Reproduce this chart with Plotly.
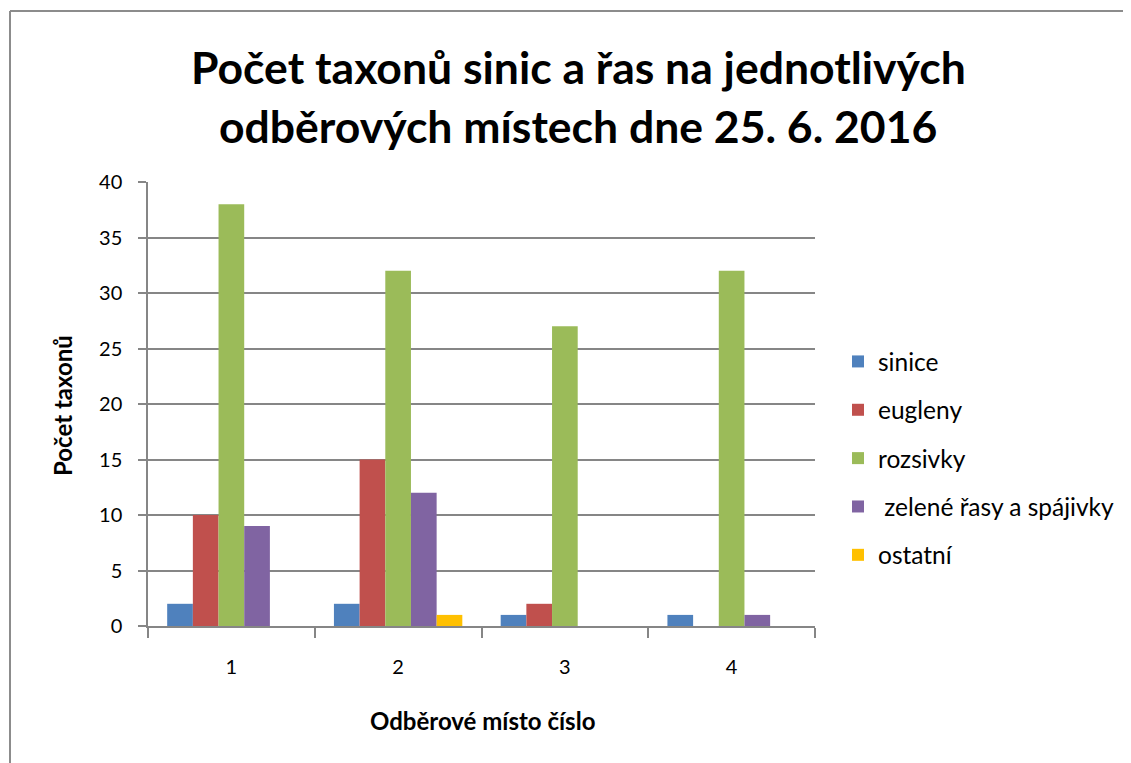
import plotly.graph_objects as go

categories = ["1", "2", "3", "4"]
series_names = ["sinice", "eugleny", "rozsivky", " zelené řasy a spájivky", "ostatní"]
sinice = [2, 2, 1, 1]
eugleny = [10, 15, 2, 0]
rozsivky = [38, 32, 27, 32]
zelene = [9, 12, 0, 1]
ostatni = [0, 1, 0, 0]
colors = ["#4F81BD", "#C0504D", "#9BBB59", "#8064A2", "#FFC000"]
values = [sinice, eugleny, rozsivky, zelene, ostatni]
title_lines = ["Počet taxonů sinic a řas na jednotlivých", "odběrových místech dne 25. 6. 2016"]

FONT = "Lato"
OFF = 8  # page body margin
fig = go.Figure()
for i, (name, vals) in enumerate(zip(series_names, values)):
    fig.add_trace(go.Bar(x=categories, y=vals, name=name, legendgroup=str(i),
                         marker=dict(color=colors[i], line=dict(width=0))))

W, H = 1131 - OFF, 763 - OFF
L, R, T, B = 148 - OFF, 815 - OFF, 182 - OFF, 626 - OFF
pw, ph = R - L, B - T

def px(x):
    return (x - OFF - L) / pw

def py(y):
    return (B - (y - OFF)) / ph

annotations = [
    dict(text="<b>%s</b>" % t, xref="paper", yref="paper", x=px(578), y=py(yy),
         showarrow=False, font=dict(size=44.5, family=FONT, color="black"),
         xanchor="center", yanchor="middle")
    for t, yy in zip(title_lines, [66, 126])
]
annotations += [
    dict(text="<b>Počet taxonů</b>", xref="paper", yref="paper", x=px(62), y=py(405),
         textangle=-90, showarrow=False, font=dict(size=24, family=FONT, color="black"),
         xanchor="center", yanchor="middle"),
    dict(text="<b>Odběrové místo číslo</b>", xref="paper", yref="paper", x=px(482), y=py(720),
         showarrow=False, font=dict(size=24, family=FONT, color="black"),
         xanchor="center", yanchor="middle"),
]

fig.update_layout(
    width=W, height=H,
    margin=dict(l=L, r=W - R, t=T, b=H - B, pad=0, autoexpand=False),
    paper_bgcolor="white", plot_bgcolor="white",
    barmode="group", bargap=0.23, bargroupgap=0,
    font=dict(family=FONT, color="black"),
    legend=dict(x=px(838), xanchor="left", y=py(339), yanchor="top",
                font=dict(size=24.5, family=FONT, color="black"),
                tracegroupgap=13.5, bgcolor="rgba(0,0,0,0)"),
    xaxis=dict(type="category", showgrid=False, showline=True, linecolor="#868686", linewidth=1.5,
               ticks="outside", tickson="boundaries", ticklen=10, tickcolor="#868686", tickwidth=1.5,
               tickfont=dict(size=20, family=FONT), ticklabelstandoff=22),
    yaxis=dict(range=[0, 40], dtick=5, showgrid=True, gridcolor="#868686", gridwidth=1.5,
               showline=True, linecolor="#868686", linewidth=1.5, zeroline=False,
               ticks="outside", ticklen=8, tickcolor="#868686", tickwidth=1.5,
               tickfont=dict(size=20, family=FONT), ticklabelstandoff=12),
    annotations=annotations,
    shapes=[
        dict(type="line", xref="paper", yref="paper", x0=px(10), x1=px(10), y0=py(11), y1=py(763),
             line=dict(color="#8c8c8c", width=2)),
        dict(type="line", xref="paper", yref="paper", x0=px(10), x1=px(1131), y0=py(11), y1=py(11),
             line=dict(color="#8c8c8c", width=2)),
    ],
)

fig.write_html("out.html")
